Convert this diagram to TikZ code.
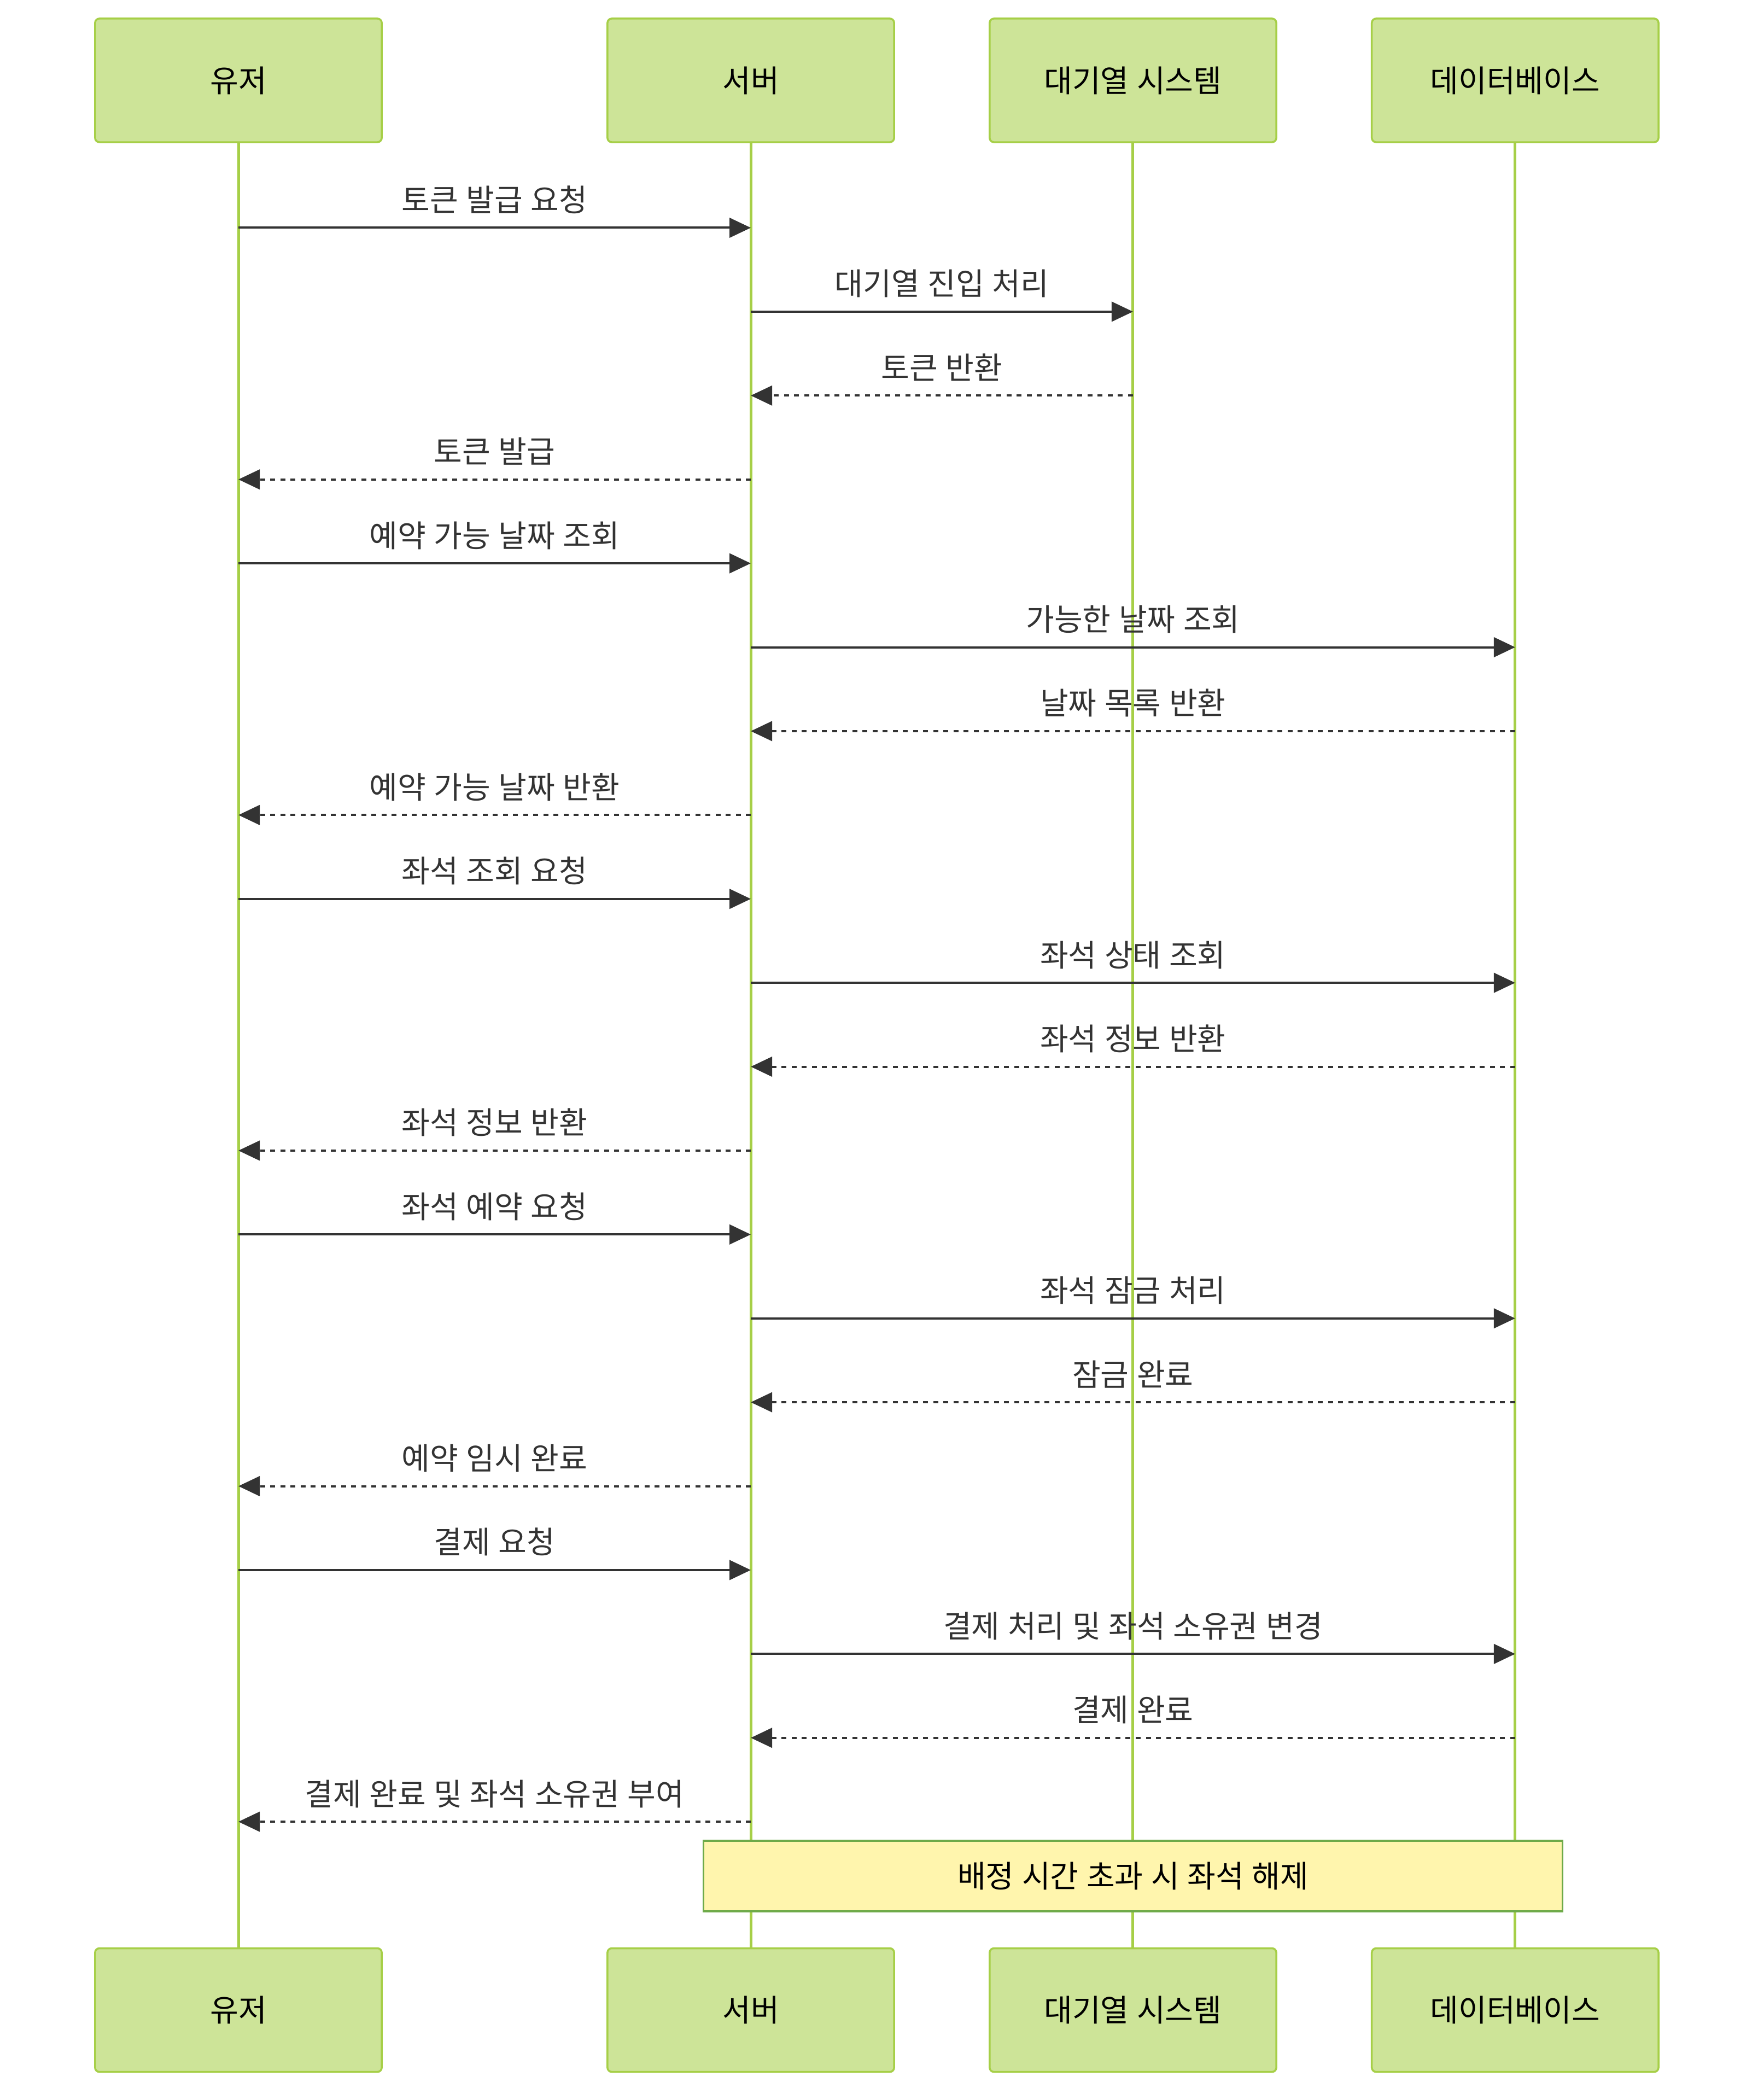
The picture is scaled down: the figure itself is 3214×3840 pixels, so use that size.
\documentclass[tikz,border=0pt]{standalone}
\usepackage{fontspec}
\setmainfont[WordSpace=1.15]{Noto Sans CJK KR}
\usepackage{xcolor}
\usepackage{tikz}
\usetikzlibrary{arrows.meta,positioning,calc}

\definecolor{actorfill}{HTML}{CDE498}
\definecolor{actorline}{HTML}{A6CF47}
\definecolor{notefill}{HTML}{FFF5AD}
\definecolor{noteline}{HTML}{6EAA49}
\definecolor{signal}{HTML}{333333}

\begin{document}
\begin{tikzpicture}[
    x=0.01cm, y=-0.01cm,
    font=\fontsize{16pt}{19pt}\selectfont,
    actor/.style={rectangle, rounded corners=0.08cm, draw=actorline, fill=actorfill, line width=0.035cm, minimum width=5.24cm, minimum height=2.26cm, align=center, text=black},
    life/.style={draw=actorline, line width=0.05cm},
    note/.style={rectangle, draw=noteline, fill=notefill, line width=0.035cm, minimum width=15.7cm, minimum height=1.29cm, text=black},
    call/.style={signal, line width=0.04cm, -{Triangle[length=0.39cm, width=0.36cm]}},
    reply/.style={call, dash pattern=on 0.09cm off 0.095cm},
    msg/.style={midway, anchor=base, yshift=0.3cm, text=signal}
]
    \useasboundingbox (0,0) rectangle (3214,3840);

    % participants
    \node[actor] (user) at (436,147) {유저};
    \node[actor, right=4.09cm of user] (server) {서버};
    \node[actor, right=1.71cm of server] (queue) {대기열 시스템};
    \node[actor, right=1.71cm of queue] (db) {데이터베이스};

    \node[actor, below=32.97cm of user] (userB) {유저};
    \node[actor, below=32.97cm of server] (serverB) {서버};
    \node[actor, below=32.97cm of queue] (queueB) {대기열 시스템};
    \node[actor, below=32.97cm of db] (dbB) {데이터베이스};

    \draw[life] (user) -- (userB);
    \draw[life] (server) -- (serverB);
    \draw[life] (queue) -- (queueB);
    \draw[life] (db) -- (dbB);

    % message rows
    \foreach \i in {1,...,20}
        \coordinate (m\i) at (0,{416.5+153.4*(\i-1)});

    \draw[call] (user |- m1) -- (server |- m1) node[msg] {토큰 발급 요청};
    \draw[call] (server |- m2) -- (queue |- m2) node[msg] {대기열 진입 처리};
    \draw[reply] (queue |- m3) -- (server |- m3) node[msg] {토큰 반환};
    \draw[reply] (server |- m4) -- (user |- m4) node[msg] {토큰 발급};
    \draw[call] (user |- m5) -- (server |- m5) node[msg] {예약 가능 날짜 조회};
    \draw[call] (server |- m6) -- (db |- m6) node[msg] {가능한 날짜 조회};
    \draw[reply] (db |- m7) -- (server |- m7) node[msg] {날짜 목록 반환};
    \draw[reply] (server |- m8) -- (user |- m8) node[msg] {예약 가능 날짜 반환};
    \draw[call] (user |- m9) -- (server |- m9) node[msg] {좌석 조회 요청};
    \draw[call] (server |- m10) -- (db |- m10) node[msg] {좌석 상태 조회};
    \draw[reply] (db |- m11) -- (server |- m11) node[msg] {좌석 정보 반환};
    \draw[reply] (server |- m12) -- (user |- m12) node[msg] {좌석 정보 반환};
    \draw[call] (user |- m13) -- (server |- m13) node[msg] {좌석 예약 요청};
    \draw[call] (server |- m14) -- (db |- m14) node[msg] {좌석 잠금 처리};
    \draw[reply] (db |- m15) -- (server |- m15) node[msg] {잠금 완료};
    \draw[reply] (server |- m16) -- (user |- m16) node[msg] {예약 임시 완료};
    \draw[call] (user |- m17) -- (server |- m17) node[msg] {결제 요청};
    \draw[call] (server |- m18) -- (db |- m18) node[msg] {결제 처리 및 좌석 소유권 변경};
    \draw[reply] (db |- m19) -- (server |- m19) node[msg] {결제 완료};
    \draw[reply] (server |- m20) -- (user |- m20) node[msg] {결제 완료 및 좌석 소유권 부여};

    % note over server .. database
    \node[note, above=0.64cm of queueB] (timeout) {배정 시간 초과 시 좌석 해제};
\end{tikzpicture}
\end{document}
